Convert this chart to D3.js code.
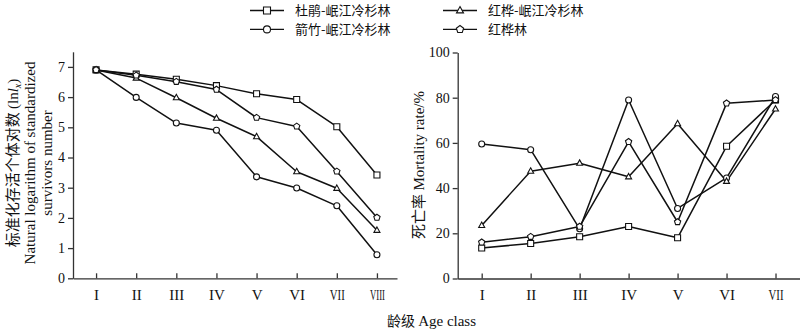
<!DOCTYPE html>
<html>
<head>
<meta charset="utf-8">
<script src="https://cdn.jsdelivr.net/npm/d3@7/dist/d3.min.js"></script>
<style>
  html, body { margin: 0; padding: 0; background: #fff; }
  svg { display: block; }
</style>
</head>
<body>
<svg id="chart" width="800" height="330"></svg>
<script>
// ---------- data ----------
const ageClassesL = ["I", "II", "III", "IV", "V", "VI", "VII", "VIII"];
const ageClassesR = ["I", "II", "III", "IV", "V", "VI", "VII"];
const seriesNames = ["杜鹃-岷江冷杉林", "箭竹-岷江冷杉林", "红桦-岷江冷杉林", "红桦林"];
const seriesSymbols = ["square", "circle", "triangle", "pentagon"];

// ln(lx) survival curves
const lnlxDujuan   = [6.9, 6.76, 6.59, 6.38, 6.11, 5.92, 5.02, 3.42];
const lnlxJianzhu  = [6.9, 5.99, 5.14, 4.90, 3.36, 2.99, 2.40, 0.78];
const lnlxHonghuaL = [6.9, 6.63, 5.98, 5.30, 4.69, 3.53, 2.98, 1.59];
const lnlxHonghua  = [6.9, 6.72, 6.51, 6.25, 5.32, 5.03, 3.54, 2.01];

// mortality rate (%)
const mortDujuan   = [13.5, 15.5, 18.5, 23.0, 18.0, 58.5, 79.0];
const mortJianzhu  = [59.5, 57.0, 22.0, 79.0, 31.0, 44.5, 80.5];
const mortHonghuaL = [23.5, 47.5, 51.0, 45.0, 68.5, 43.0, 75.0];
const mortHonghua  = [16.0, 18.5, 23.0, 60.5, 25.0, 77.5, 79.0];

const yTicksL = [0, 1, 2, 3, 4, 5, 6, 7];
const yTicksR = [0, 20, 40, 60, 80, 100];

const lnlxSeries = [lnlxDujuan, lnlxJianzhu, lnlxHonghuaL, lnlxHonghua];
const mortSeries = [mortDujuan, mortJianzhu, mortHonghuaL, mortHonghua];

// ---------- drawing ----------
const svg = d3.select("#chart");
const serif = "'Liberation Serif', 'Times New Roman', serif";
const cjk = "'Noto Sans CJK SC', sans-serif";
const ink = "#111";
const axisInk = "#333";

function symbolPath(kind, s) {
  if (kind === "square") return d3.symbol(d3.symbolSquare, s * s)();
  if (kind === "circle") return d3.symbol(d3.symbolCircle, Math.PI * (s / 2) * (s / 2))();
  if (kind === "triangle") {
    const h = s * 0.9, w = s;
    return `M0,${-h * 0.62}L${w / 2},${h * 0.38}L${-w / 2},${h * 0.38}Z`;
  }
  if (kind === "pentagon") {
    const r = s * 0.55;
    const pts = d3.range(5).map(i => {
      const a = -Math.PI / 2 + i * 2 * Math.PI / 5;
      return [r * Math.cos(a), r * Math.sin(a)];
    });
    return "M" + pts.map(p => p.join(",")).join("L") + "Z";
  }
}

function panel(opts) {
  const { x, y, classes, series, yTicks } = opts;
  const g = svg.append("g");

  const xAxis = d3.axisBottom(x)
    .tickValues(d3.range(classes.length))
    .tickFormat(i => classes[i])
    .tickSizeInner(-5).tickSizeOuter(0).tickPadding(11);
  const gx = g.append("g").attr("transform", `translate(0,${y.range()[0]})`).call(xAxis);
  gx.selectAll("text")
    .attr("font-family", serif).attr("font-size", 15).attr("fill", ink)
    .each(function (i) {
      const t = classes[i];
      if (t === "VII") d3.select(this).attr("textLength", 15).attr("lengthAdjust", "spacingAndGlyphs");
      if (t === "VIII") d3.select(this).attr("textLength", 15).attr("lengthAdjust", "spacingAndGlyphs");
    });

  const yAxis = d3.axisLeft(y).tickValues(yTicks).tickSizeInner(5).tickSizeOuter(0).tickPadding(3);
  const gy = g.append("g").attr("transform", `translate(${x.range()[0]},0)`).call(yAxis);
  gy.selectAll("text").attr("font-family", serif).attr("font-size", 14).attr("fill", ink);

  g.selectAll(".domain, .tick line").attr("stroke", axisInk).attr("stroke-width", 1.3);

  const line = d3.line().x((d, i) => x(i)).y(d => y(d));
  series.forEach((vals, k) => {
    g.append("path").datum(vals)
      .attr("d", line).attr("fill", "none")
      .attr("stroke", ink).attr("stroke-width", 1.5).attr("stroke-linejoin", "round");
  });
  series.forEach((vals, k) => {
    g.selectAll(null).data(vals).enter().append("path")
      .attr("d", symbolPath(seriesSymbols[k], 6))
      .attr("transform", (d, i) => `translate(${x(i)},${y(d)})`)
      .attr("fill", "#fff").attr("stroke", ink).attr("stroke-width", 1.1);
  });
  return g;
}

// left panel
const xL = d3.scaleLinear().domain([-0.575, 7.5]).range([73, 397]);
const yL = d3.scaleLinear().domain([0, 7.5]).range([278.3, 51.8]);
panel({ x: xL, y: yL, classes: ageClassesL, series: lnlxSeries, yTicks: yTicksL });

// right panel
const xR = d3.scaleLinear().domain([-0.49, 6.5]).range([457.7, 800]);
const yR = d3.scaleLinear().domain([0, 100]).range([278.5, 52.5]);
panel({ x: xR, y: yR, classes: ageClassesR, series: mortSeries, yTicks: yTicksR });

// left y title (three lines)
const t1 = svg.append("text")
  .attr("transform", "translate(18,163) rotate(-90)")
  .attr("text-anchor", "middle")
  .attr("fill", ink);
t1.append("tspan").attr("font-family", cjk).attr("font-size", 15).text("标准化存活个体对数 ");
t1.append("tspan").attr("font-family", serif).attr("font-size", 15).text("(ln");
t1.append("tspan").attr("font-family", serif).attr("font-size", 15).attr("font-style", "italic").text("l");
t1.append("tspan").attr("font-family", serif).attr("font-size", 10).attr("font-style", "italic").attr("dy", 3).text("x");
t1.append("tspan").attr("font-family", serif).attr("font-size", 15).attr("dy", -3).text(")");

svg.append("text")
  .attr("transform", "translate(35,163) rotate(-90)")
  .attr("text-anchor", "middle")
  .attr("font-family", serif).attr("font-size", 15).attr("fill", ink)
  .text("Natural logarithm of standardized");
svg.append("text")
  .attr("transform", "translate(52,163) rotate(-90)")
  .attr("text-anchor", "middle")
  .attr("font-family", serif).attr("font-size", 15).attr("fill", ink)
  .text("survivors number");

// right y title
const t2 = svg.append("text")
  .attr("transform", "translate(424,165) rotate(-90)")
  .attr("text-anchor", "middle")
  .attr("fill", ink);
t2.append("tspan").attr("font-family", cjk).attr("font-size", 15).text("死亡率 ");
t2.append("tspan").attr("font-family", serif).attr("font-size", 15).text("Mortality rate/%");

// x title
const t3 = svg.append("text")
  .attr("x", 387).attr("y", 326).attr("fill", ink);
t3.append("tspan").attr("font-family", cjk).attr("font-size", 14).text("龄级 ");
t3.append("tspan").attr("font-family", serif).attr("font-size", 15).text("Age class");

// legend
const legendBase = [15.3, 34.2, 15.3, 34.2];
const legendX = [250, 250, 443, 443];
seriesNames.forEach((name, k) => {
  const lx = legendX[k], base = legendBase[k];
  const cy = base - 4.8;
  const lg = svg.append("g").attr("transform", `translate(${lx},${cy})`);
  lg.append("line").attr("x1", 0).attr("x2", 34).attr("y1", 0).attr("y2", 0)
    .attr("stroke", ink).attr("stroke-width", 1.3);
  lg.append("path").attr("d", symbolPath(seriesSymbols[k], 7))
    .attr("transform", "translate(17,0)")
    .attr("fill", "#fff").attr("stroke", ink).attr("stroke-width", 1.1);
  svg.append("text").attr("x", lx + 45).attr("y", base)
    .attr("font-family", cjk).attr("font-size", 13).attr("fill", ink).text(name);
});
</script>
</body>
</html>
